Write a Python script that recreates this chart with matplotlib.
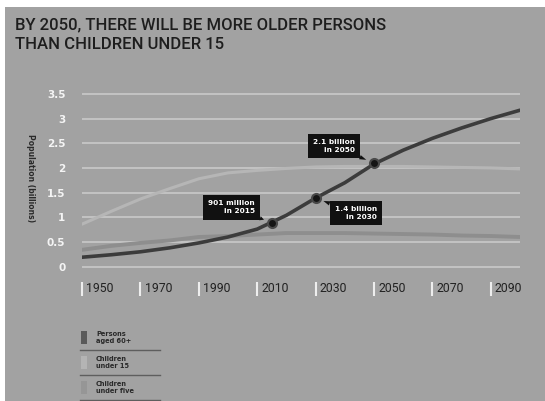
import matplotlib
matplotlib.use("Agg")
from matplotlib import pyplot as plt
from matplotlib.patches import Rectangle
from matplotlib.lines import Line2D

# data (billions)
years = [1950, 1960, 1970, 1980, 1990, 2000, 2010, 2020, 2030, 2040, 2050, 2060, 2070, 2080, 2090, 2100]
aged_60_plus = [0.19, 0.24, 0.30, 0.38, 0.48, 0.60, 0.76, 1.04, 1.39, 1.70, 2.08, 2.36, 2.60, 2.81, 3.00, 3.17]
under_15 = [0.86, 1.12, 1.37, 1.58, 1.78, 1.90, 1.95, 1.99, 2.02, 2.03, 2.03, 2.03, 2.02, 2.01, 2.00, 1.98]
under_5 = [0.34, 0.42, 0.48, 0.53, 0.60, 0.62, 0.65, 0.68, 0.68, 0.68, 0.67, 0.66, 0.65, 0.63, 0.62, 0.60]

# highlighted points on the 60+ line
marker_years = [2015, 2030, 2050]
marker_values = [0.89, 1.39, 2.10]
marker_labels = ["901 million\nin 2015", "1.4 billion\nin 2030", "2.1 billion\nin 2050"]

y_ticks = [0, 0.5, 1, 1.5, 2, 2.5, 3, 3.5]
y_tick_labels = ["0", "0.5", "1", "1.5", "2", "2.5", "3", "3.5"]
x_ticks = [1950, 1970, 1990, 2010, 2030, 2050, 2070, 2090]

legend_labels = ["Persons\naged 60+", "Children\nunder 15", "Children\nunder five"]
legend_colors = ["#5a5a5a", "#b4b4b4", "#969696"]

title_lines = ["BY 2050, THERE WILL BE MORE OLDER PERSONS", "THAN CHILDREN UNDER 15"]

W, H = 545, 401
BG = "#a2a2a2"
narrow = ["Roboto", "DejaVu Sans"]


def fx(px):
    return px / W


def fy(py):
    return 1 - py / H


fig = plt.figure(figsize=(W / 100, H / 100), dpi=100, facecolor="white")
fig.add_artist(Rectangle((fx(5), 0), 1, fy(7), transform=fig.transFigure, facecolor=BG, edgecolor="none", zorder=0))

# title, one line at a time
for line, base in zip(title_lines, [29.5, 49]):
    fig.text(fx(15), fy(base), line, ha="left", va="baseline", fontsize=12,
             family=narrow, fontweight="medium", color="#1e1e1e")

ax = fig.add_axes([fx(82), fy(274), fx(520) - fx(82), (274 - 89) / H])
ax.set_facecolor("none")
ax.set_xlim(1950, 2100)
ax.set_ylim(-0.15, 3.6)
for s in ax.spines.values():
    s.set_visible(False)

ax.set_yticks(y_ticks)
ax.set_yticklabels(y_tick_labels)
ax.tick_params(axis="y", length=0, pad=12, labelsize=7.5, labelcolor="#f4f4f4")
for lab in ax.get_yticklabels():
    lab.set_fontweight("bold")
ax.set_xticks([])
ax.grid(axis="y", color="#c6c6c6", linewidth=1.3)
ax.set_axisbelow(True)

ax.plot(years, under_15, color="#b6b6b6", linewidth=2.2, solid_capstyle="round")
ax.plot(years, under_5, color="#8e8e8e", linewidth=2.8, solid_capstyle="round")
ax.plot(years, aged_60_plus, color="#3c3c3c", linewidth=2.6, solid_capstyle="round")
ax.plot(marker_years, marker_values, "o", color="#151515", markersize=6.5,
        markeredgecolor="#4a4a4a", markeredgewidth=1.5, zorder=5)

# call-out boxes
offsets = [(-29, 11), (29, -11), (-29, 12)]
for yr, val, txt, off in zip(marker_years, marker_values, marker_labels, offsets):
    ax.annotate(txt, xy=(yr, val), xytext=off, textcoords="offset points",
                ha="center", va="center", multialignment="right",
                fontsize=5.3, fontweight="bold", color="white", linespacing=1.4,
                bbox=dict(boxstyle="square,pad=0.7", fc="#111111", ec="none"),
                arrowprops=dict(arrowstyle="wedge,tail_width=0.6", fc="#111111", ec="none",
                                shrinkA=0, shrinkB=6))

# x labels with the small white bars
xt = ax.get_xaxis_transform()
y_bar_top = (274 - 282) / (274 - 89)
y_bar_bot = (274 - 296) / (274 - 89)
ax.vlines(x_ticks, y_bar_bot, y_bar_top, transform=xt, color="#eeeeee", linewidth=1.5, clip_on=False)
for yr in x_ticks:
    ax.annotate(str(yr), xy=(yr, (y_bar_top + y_bar_bot) / 2), xycoords=xt, xytext=(3, 0),
                textcoords="offset points", ha="left", va="center", fontsize=8.8,
                family=narrow, color="#222222", annotation_clip=False)

fig.text(fx(30), fy(178), "Population (billions)", rotation=-90, ha="center", va="center",
         fontsize=5.5, fontweight="bold", color="#2a2a2a")

# legend
for i, (lab, col) in enumerate(zip(legend_labels, legend_colors)):
    cy = 337.5 + 25 * i
    fig.add_artist(Rectangle((fx(80.5), fy(cy + 6.5)), fx(6.5), 13 / H, transform=fig.transFigure,
                             facecolor=col, edgecolor="none"))
    fig.text(fx(96), fy(cy), lab, ha="left", va="center", fontsize=4.8, fontweight="bold",
             color="#2a2a2a", linespacing=1.3)
    fig.add_artist(Line2D([fx(80), fx(160)], [fy(cy + 12), fy(cy + 12)], transform=fig.transFigure,
                          color="#5e5e5e", linewidth=1))

fig.savefig("out.png", dpi=100, facecolor=fig.get_facecolor())
